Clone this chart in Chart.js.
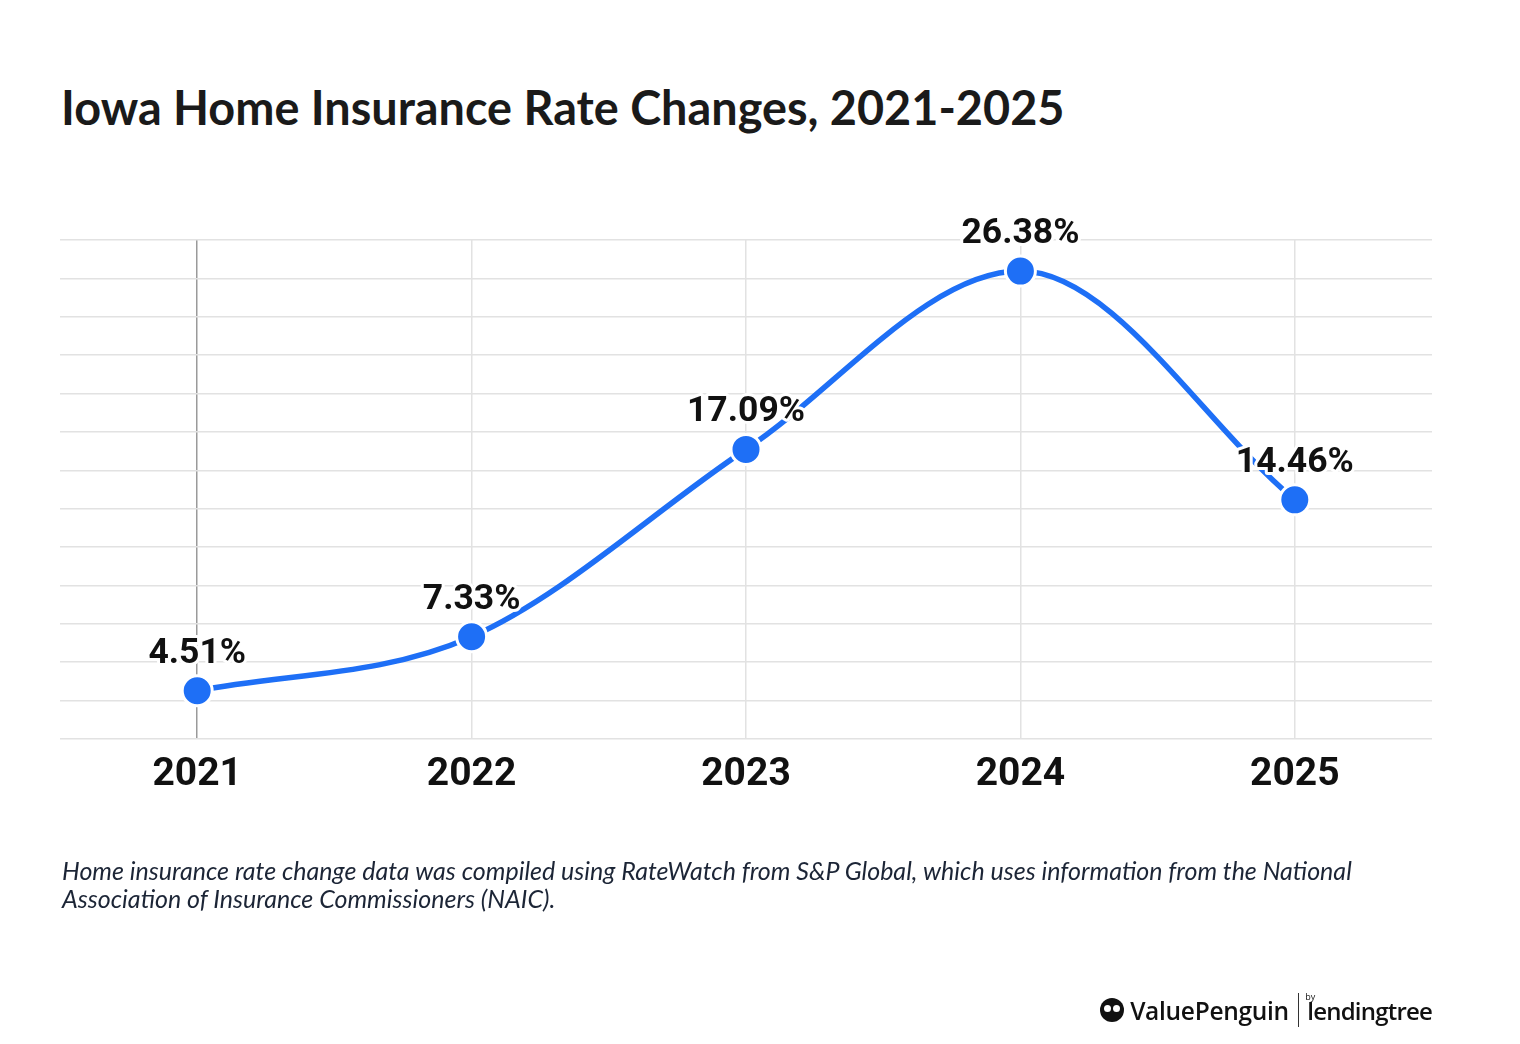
<!DOCTYPE html>
<html>
<head>
<meta charset="utf-8">
<script src="https://cdn.jsdelivr.net/npm/chart.js@4/dist/chart.umd.min.js"></script>
<style>
  html, body { margin:0; padding:0; background:#fff; }
  #wrap { position:relative; width:1520px; height:1044px; overflow:hidden; }
  #c { position:absolute; left:0; top:0; }
  #title { position:absolute; left:61px; top:79px; font-family:Lato, sans-serif; font-weight:700; font-size:46.8px; color:#1a1a1a; white-space:nowrap; }
  #note { position:absolute; left:62px; top:856px; width:1345px; font-family:Lato, sans-serif; font-style:italic; font-size:25px; line-height:28px; color:#1c2536; }
  #logo { position:absolute; right:88px; top:990px; height:40px; display:flex; align-items:center; font-family:"Open Sans", sans-serif; color:#111; }
  #logo .vp { font-size:24.5px; font-weight:600; letter-spacing:-0.3px; }
  #logo .sep { width:1.5px; height:34px; background:#333; margin:0 6px 0 9px; }
  #logo .by { font-size:9px; align-self:flex-start; margin-top:0px; margin-right:-8px; }
  #logo .lt { font-size:24px; font-weight:600; letter-spacing:-0.8px; }
  #logo .peng { width:24px; height:24px; border-radius:50%; background:#111; margin-right:6px; position:relative; }
  #logo .peng:before, #logo .peng:after { content:""; position:absolute; top:7px; width:7px; height:7px; background:#fff; border-radius:50%; }
  #logo .peng:before { left:4px; } #logo .peng:after { right:4px; }
</style>
</head>
<body>
<div id="wrap">
  <div id="title">Iowa Home Insurance Rate Changes, 2021-2025</div>
  <canvas id="c" width="1520" height="1044"></canvas>
  <div id="note">Home insurance rate change data was compiled using RateWatch from S&amp;P Global, which uses information from the National Association of Insurance Commissioners (NAIC).</div>
  <div id="logo"><div class="peng"></div><span class="vp">ValuePenguin</span><span class="sep"></span><span class="by">by</span><span class="lt">lendingtree</span></div>
</div>
<script>
const years = ["2021", "2022", "2023", "2024", "2025"];
const rateChanges = [4.51, 7.33, 17.09, 26.38, 14.46];
const yMin = 2, yMax = 28, yStep = 2;

const labelPlugin = {
  id: 'pointLabels',
  afterDatasetsDraw(chart) {
    const ctx = chart.ctx;
    const meta = chart.getDatasetMeta(0);
    ctx.save();
    ctx.font = 'bold 35.5px Roboto, sans-serif';
    ctx.textAlign = 'center';
    ctx.textBaseline = 'alphabetic';
    ctx.lineJoin = 'round';
    meta.data.forEach((pt, i) => {
      const txt = rateChanges[i].toFixed(2) + '%';
      const x = pt.x, y = pt.y - 28;
      ctx.strokeStyle = '#ffffff';
      ctx.lineWidth = 6;
      ctx.strokeText(txt, x, y);
      ctx.fillStyle = '#111111';
      ctx.fillText(txt, x, y);
    });
    ctx.restore();
  }
};

new Chart(document.getElementById('c'), {
  type: 'line',
  data: {
    labels: years,
    datasets: [{
      data: rateChanges,
      borderColor: '#1E6FF6',
      backgroundColor: '#1E6FF6',
      borderWidth: 5.5,
      cubicInterpolationMode: 'monotone',
      pointRadius: 15,
      pointHoverRadius: 15,
      pointBorderWidth: 3,
      pointBorderColor: '#ffffff',
      pointBackgroundColor: '#1E6FF6',
      clip: false
    }]
  },
  options: {
    responsive: false,
    animation: false,
    devicePixelRatio: 1,
    layout: { padding: { left: 60, right: 88, top: 240, bottom: 245 } },
    plugins: { legend: { display: false }, tooltip: { enabled: false } },
    scales: {
      x: {
        offset: true,
        grid: {
          offset: false,
          drawTicks: false,
          color: (c) => c.index === 0 ? '#9a9a9a' : '#e2e2e2',
          lineWidth: 1.5
        },
        border: { display: false },
        ticks: { color: '#111', font: { family: 'Roboto, sans-serif', weight: 'bold', size: 39 }, padding: 13 },
        afterFit(s) { s.height = 60; }
      },
      y: {
        min: yMin, max: yMax,
        ticks: { display: false, stepSize: yStep },
        grid: { drawTicks: false, color: '#e2e2e2', lineWidth: 1.5 },
        border: { display: false },
        afterFit(s) { s.width = 0; }
      }
    }
  },
  plugins: [labelPlugin]
});
</script>
</body>
</html>
